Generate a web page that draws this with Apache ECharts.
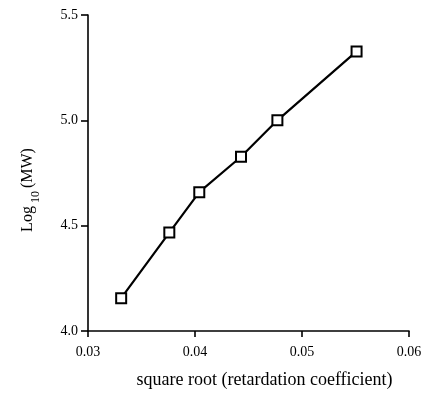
<!DOCTYPE html>
<html>
<head>
<meta charset="utf-8">
<script src="https://cdn.jsdelivr.net/npm/echarts@6/dist/echarts.min.js"></script>
<style>
html, body { margin: 0; padding: 0; background: #fff; }
#chart { width: 428px; height: 394px; }
</style>
</head>
<body>
<div id="chart"></div>
<script>
// values
var sqrtRetard = [0.0331, 0.0376, 0.0404, 0.0443, 0.0477, 0.0551];
var logMW = [4.156, 4.467, 4.659, 4.827, 5.0, 5.327];

var xTicks = [0.03, 0.04, 0.05, 0.06];
var yTicks = [4.0, 4.5, 5.0, 5.5];

var points = [];
for (var i = 0; i < sqrtRetard.length; i++) {
    points.push([sqrtRetard[i], logMW[i]]);
}

var font = "'Liberation Serif', 'DejaVu Serif', serif";

var chart = echarts.init(document.getElementById('chart'));
chart.setOption({
    animation: false,
    backgroundColor: '#fff',
    grid: {
        left: 88,
        right: 19,
        top: 15,
        bottom: 62
    },
    xAxis: {
        type: 'value',
        min: xTicks[0],
        max: xTicks[xTicks.length - 1],
        interval: 0.01,
        name: 'square root (retardation coefficient)',
        nameLocation: 'middle',
        nameGap: 40,
        nameTextStyle: { fontFamily: font, fontSize: 18, color: '#000', padding: [0, 0, 0, 32] },
        axisLine: { lineStyle: { color: '#000', width: 1.6 } },
        axisTick: { length: 6, lineStyle: { color: '#000', width: 1.6 } },
        axisLabel: {
            fontFamily: font, fontSize: 14, color: '#000', margin: 14,
            formatter: function (v) { return v.toFixed(2); }
        },
        splitLine: { show: false }
    },
    yAxis: {
        type: 'value',
        min: yTicks[0],
        max: yTicks[yTicks.length - 1],
        interval: 0.5,
        name: '{a|Log}{s| 10 }{a|(MW)}',
        nameLocation: 'middle',
        nameGap: 52,
        nameRotate: 90,
        nameTextStyle: {
            padding: [0, 34, 0, 0],
            rich: {
                a: { fontFamily: font, fontSize: 16, color: '#000' },
                s: { fontFamily: font, fontSize: 12, color: '#000', verticalAlign: 'bottom', padding: [0, 0, -6, 0] }
            }
        },
        axisLine: { lineStyle: { color: '#000', width: 1.6 } },
        axisTick: { length: 7, lineStyle: { color: '#000', width: 1.6 } },
        axisLabel: {
            fontFamily: font, fontSize: 14, color: '#000', margin: 10,
            formatter: function (v) { return v.toFixed(1); }
        },
        splitLine: { show: false }
    },
    series: [{
        type: 'line',
        data: points,
        symbol: 'rect',
        symbolSize: 10,
        lineStyle: { color: '#000', width: 2.2 },
        itemStyle: { color: '#fff', borderColor: '#000', borderWidth: 2 }
    }]
});
</script>
</body>
</html>
